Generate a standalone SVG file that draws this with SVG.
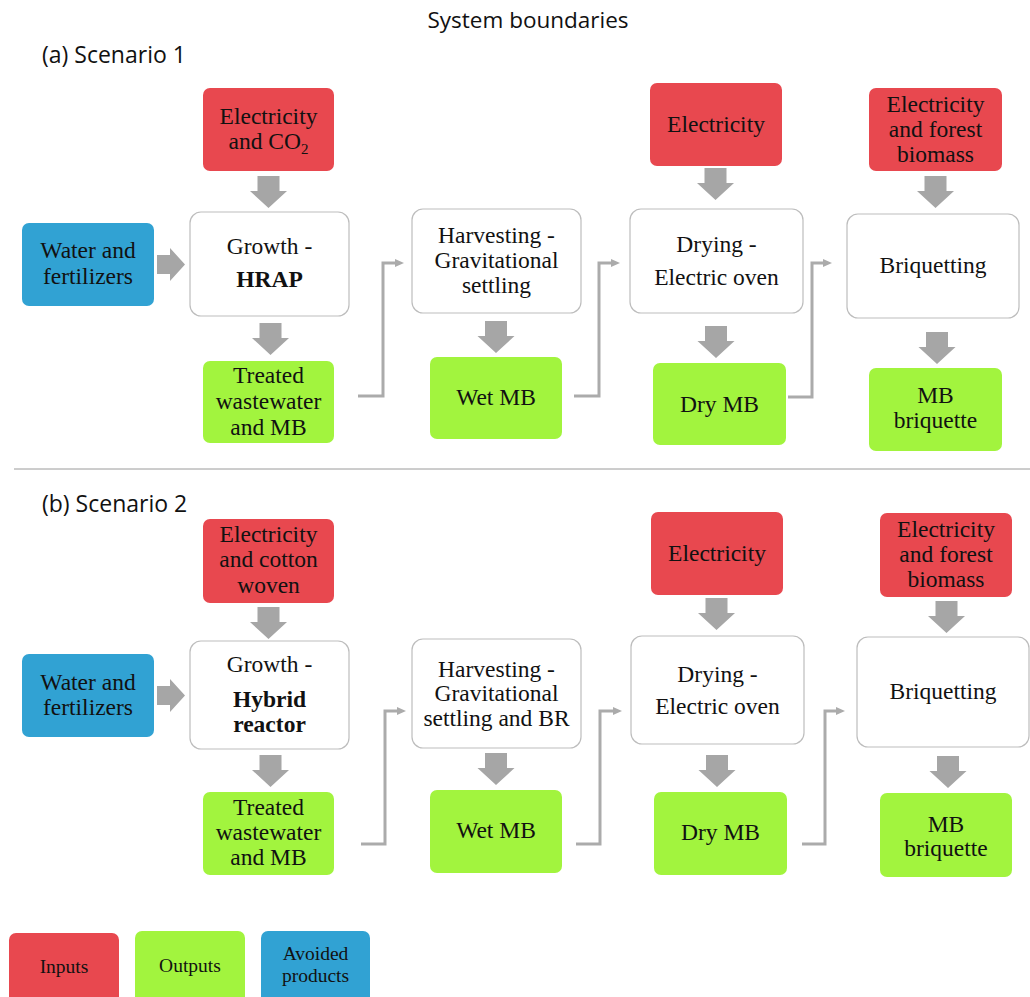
<svg xmlns="http://www.w3.org/2000/svg" width="1030" height="997" viewBox="0 0 1030 997">
<style>
.in{fill:#E8484F}
.out{fill:#A2F43E}
.av{fill:#31A2D3}
.proc{fill:#FFFFFF;stroke:#BDBDBD;stroke-width:1.2}
.lbl{font-family:"Liberation Serif","Times New Roman",serif;font-size:23.5px;fill:#111;text-anchor:middle}
.bold{font-weight:bold}
.lg{font-family:"Liberation Serif","Times New Roman",serif;font-size:19.5px;fill:#111;text-anchor:middle}
.hd{font-family:"Open Sans","Liberation Sans",sans-serif;fill:#111}
.blk{fill:#A6A6A6}
.con{fill:none;stroke:#ABABAB;stroke-width:3}
</style>
<defs>
<marker id="ah" markerWidth="10" markerHeight="10" refX="1" refY="5" orient="auto" markerUnits="userSpaceOnUse" viewBox="0 0 10 10"><path d="M0,1 L9,5 L0,9 z" fill="#ABABAB"/></marker>
<path id="dn" d="M-11,0 H11 V15 H18.5 L0,32 L-18.5,15 H-11 Z"/>
<path id="rt" d="M0,-9.5 H13 V-16.5 L28,0 L13,16.5 V9.5 H0 Z"/>
</defs>
<rect width="1030" height="997" fill="#FFFFFF"/>

<text class="hd" x="528" y="28" font-size="22.5" text-anchor="middle">System boundaries</text>
<text class="hd" x="42" y="63" font-size="23">(a) Scenario 1</text>
<text class="hd" x="42" y="512" font-size="23">(b) Scenario 2</text>
<line x1="14" y1="469" x2="1030" y2="469" stroke="#9A9A9A" stroke-width="1"/>

<g font-family="Liberation Serif, Times New Roman, serif">
<!-- Scenario 1 -->
<g id="s1-elec-co2"><rect class="in" x="203" y="88" width="131" height="83" rx="7"/><text class="lbl" x="268.5" y="124">Electricity</text><text class="lbl" x="268.5" y="149">and CO<tspan font-size="15" dy="5">2</tspan></text></g>
<g id="s1-water"><rect class="av" x="22" y="223" width="132" height="83" rx="7"/><text class="lbl" x="88" y="258">Water and</text><text class="lbl" x="88" y="284">fertilizers</text></g>
<g id="s1-growth"><rect class="proc" x="190" y="212" width="159" height="104" rx="11"/><text class="lbl" x="269.5" y="254">Growth -</text><text class="lbl bold" x="269.5" y="287">HRAP</text></g>
<g id="s1-treated"><rect class="out" x="203" y="361" width="131" height="82" rx="7"/><text class="lbl" x="268.5" y="383">Treated</text><text class="lbl" x="268.5" y="409">wastewater</text><text class="lbl" x="268.5" y="435">and MB</text></g>
<g id="s1-harvest"><rect class="proc" x="412" y="209" width="169" height="104" rx="11"/><text class="lbl" x="496.5" y="243">Harvesting -</text><text class="lbl" x="496.5" y="268">Gravitational</text><text class="lbl" x="496.5" y="293">settling</text></g>
<g id="s1-wet"><rect class="out" x="430" y="357" width="132" height="82" rx="7"/><text class="lbl" x="496" y="405">Wet MB</text></g>
<g id="s1-elec"><rect class="in" x="650" y="83" width="132" height="83" rx="7"/><text class="lbl" x="716" y="132">Electricity</text></g>
<g id="s1-drying"><rect class="proc" x="630" y="209" width="173" height="104" rx="11"/><text class="lbl" x="716.5" y="252">Drying -</text><text class="lbl" x="716.5" y="285">Electric oven</text></g>
<g id="s1-dry"><rect class="out" x="653" y="363" width="133" height="82" rx="7"/><text class="lbl" x="719.5" y="412">Dry MB</text></g>
<g id="s1-elec-forest"><rect class="in" x="869" y="88" width="133" height="83" rx="7"/><text class="lbl" x="935.5" y="112">Electricity</text><text class="lbl" x="935.5" y="137">and forest</text><text class="lbl" x="935.5" y="162">biomass</text></g>
<g id="s1-briq"><rect class="proc" x="847" y="214" width="172" height="104" rx="11"/><text class="lbl" x="933" y="273">Briquetting</text></g>
<g id="s1-mb"><rect class="out" x="869" y="368" width="133" height="83" rx="7"/><text class="lbl" x="935.5" y="403">MB</text><text class="lbl" x="935.5" y="428">briquette</text></g>

<!-- Scenario 2 -->
<g id="s2-elec-cotton"><rect class="in" x="203" y="519" width="131" height="84" rx="7"/><text class="lbl" x="268.5" y="542">Electricity</text><text class="lbl" x="268.5" y="567">and cotton</text><text class="lbl" x="268.5" y="593">woven</text></g>
<g id="s2-water"><rect class="av" x="22" y="654" width="132" height="83" rx="7"/><text class="lbl" x="88" y="690">Water and</text><text class="lbl" x="88" y="715">fertilizers</text></g>
<g id="s2-growth"><rect class="proc" x="190" y="641" width="159" height="108" rx="11"/><text class="lbl" x="269.5" y="672">Growth -</text><text class="lbl bold" x="269.5" y="707">Hybrid</text><text class="lbl bold" x="269.5" y="732">reactor</text></g>
<g id="s2-treated"><rect class="out" x="203" y="792" width="131" height="83" rx="7"/><text class="lbl" x="268.5" y="815">Treated</text><text class="lbl" x="268.5" y="840">wastewater</text><text class="lbl" x="268.5" y="865">and MB</text></g>
<g id="s2-harvest"><rect class="proc" x="412" y="639" width="169" height="109" rx="11"/><text class="lbl" x="496.5" y="677">Harvesting -</text><text class="lbl" x="496.5" y="701">Gravitational</text><text class="lbl" x="496.5" y="726">settling and BR</text></g>
<g id="s2-wet"><rect class="out" x="430" y="790" width="132" height="83" rx="7"/><text class="lbl" x="496" y="838">Wet MB</text></g>
<g id="s2-elec"><rect class="in" x="651" y="512" width="132" height="83" rx="7"/><text class="lbl" x="717" y="561">Electricity</text></g>
<g id="s2-drying"><rect class="proc" x="631" y="636" width="173" height="108" rx="11"/><text class="lbl" x="717.5" y="682">Drying -</text><text class="lbl" x="717.5" y="714">Electric oven</text></g>
<g id="s2-dry"><rect class="out" x="654" y="792" width="133" height="83" rx="7"/><text class="lbl" x="720.5" y="840">Dry MB</text></g>
<g id="s2-elec-forest"><rect class="in" x="880" y="513" width="132" height="84" rx="7"/><text class="lbl" x="946" y="537">Electricity</text><text class="lbl" x="946" y="562">and forest</text><text class="lbl" x="946" y="587">biomass</text></g>
<g id="s2-briq"><rect class="proc" x="857" y="637" width="172" height="110" rx="11"/><text class="lbl" x="943" y="699">Briquetting</text></g>
<g id="s2-mb"><rect class="out" x="880" y="793" width="132" height="84" rx="7"/><text class="lbl" x="946" y="832">MB</text><text class="lbl" x="946" y="856">briquette</text></g>

<!-- Legend -->
<g id="legend-inputs"><rect class="in" x="9" y="933" width="110" height="72" rx="7"/><text class="lg" x="64" y="973">Inputs</text></g>
<g id="legend-outputs"><rect class="out" x="135" y="931" width="110" height="72" rx="7"/><text class="lg" x="190" y="972">Outputs</text></g>
<g id="legend-avoided"><rect class="av" x="261" y="931" width="109" height="72" rx="7"/><text class="lg" x="315.5" y="960">Avoided</text><text class="lg" x="315.5" y="982">products</text></g>
</g>

<g id="connectors">
<g class="blk">
<use href="#dn" x="268.5" y="176"/>
<use href="#dn" x="270.5" y="323"/>
<use href="#dn" x="496" y="321"/>
<use href="#dn" x="715.5" y="168"/>
<use href="#dn" x="716" y="326"/>
<use href="#dn" x="935.5" y="176"/>
<use href="#dn" x="937" y="332"/>
<use href="#rt" x="157" y="264.5"/>
<use href="#dn" x="268.5" y="607"/>
<use href="#dn" x="270.5" y="755"/>
<use href="#dn" x="496" y="753"/>
<use href="#dn" x="716.5" y="598"/>
<use href="#dn" x="717" y="755"/>
<use href="#dn" x="946.5" y="601"/>
<use href="#dn" x="948" y="756"/>
<use href="#rt" x="157" y="695.5"/>
</g>
<polyline class="con" points="358,396 383,396 383,263 396,263" marker-end="url(#ah)"/>
<polyline class="con" points="574,396 599,396 599,263 612,263" marker-end="url(#ah)"/>
<polyline class="con" points="788,397 812,397 812,263 824,263" marker-end="url(#ah)"/>
<polyline class="con" points="361,844 385,844 385,711 398,711" marker-end="url(#ah)"/>
<polyline class="con" points="576,844 600,844 600,711 614,711" marker-end="url(#ah)"/>
<polyline class="con" points="802,844 825,844 825,711 837,711" marker-end="url(#ah)"/>
</g>
</svg>
